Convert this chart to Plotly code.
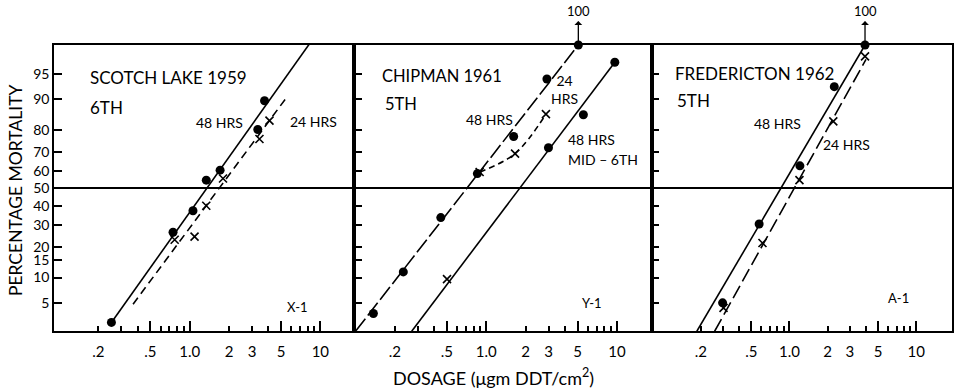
import math
import plotly.graph_objects as go
from statistics import NormalDist

# ---------------- data ----------------
pct_ticks = [5, 10, 15, 20, 30, 40, 50, 60, 70, 80, 90, 95]
dose_label_vals = [0.2, 0.5, 1.0, 2, 3, 5, 10]
dose_label_text = [".2", ".5", "1.0", "2", "3", "5", "10"]
dose_minor_vals = [0.3, 0.4, 0.6, 0.7, 0.8, 0.9, 4, 6, 7, 8, 9]
dose_long_vals = [0.5, 1.0, 5, 10]

# Panel 1: Scotch Lake 1959, 6th instar
p1_48_dose = [0.252, 0.746, 1.06, 1.34, 1.71, 3.32, 3.74]
p1_48_pct = [2.7, 26.4, 37.4, 54.7, 60.3, 80.1, 89.6]
p1_24_dose = [0.768, 1.09, 1.34, 1.80, 3.42, 4.08]
p1_24_pct = [23.0, 24.4, 40.1, 55.6, 76.1, 83.5]
p1_48_fit_dose = [0.252, 8.24]
p1_48_fit_pct = [2.7, 98.1]
p1_24_fit_dose = [0.369, 5.63]
p1_24_fit_pct = [4.8, 90.8]

# Panel 2: Chipman 1961, 5th instar
p2_a_dose = [0.137, 0.232, 0.449, 0.855, 1.62, 2.91, 5.06]
p2_a_pct = [3.6, 11.5, 33.7, 58.4, 77.2, 94.2, 100]
p2_a_fit_dose = [0.10, 5.06]
p2_a_fit_pct = [2.0, 100]
p2_b_dose = [0.89, 1.66, 2.86]
p2_b_pct = [59.3, 69.1, 85.7]
p2_c_dot_dose = [2.99, 5.53, 9.62]
p2_c_dot_pct = [72.0, 85.5, 96.5]
p2_c_x_dose = [0.501]
p2_c_x_pct = [9.6]
p2_c_fit_dose = [0.269, 9.62]
p2_c_fit_pct = [2.0, 96.5]

# Panel 3: Fredericton 1962, 5th instar
p3_48_dose = [0.297, 0.577, 1.21, 2.26, 3.95]
p3_48_pct = [5.0, 30.4, 62.7, 92.8, 100]
p3_24_dose = [0.302, 0.613, 1.20, 2.22, 3.95]
p3_24_pct = [4.3, 21.6, 54.7, 83.2, 97.1]
p3_48_fit_dose = [0.186, 3.95]
p3_48_fit_pct = [2.0, 100]
p3_24_fit_dose = [0.257, 4.02]
p3_24_fit_pct = [2.0, 96.8]

# ---------------- helpers ----------------
ND = NormalDist()
Y_MIN, Y_MAX = -2.05, 2.06


def probit(values):
    out = []
    for p in values:
        out.append(Y_MAX if p >= 100 else ND.inv_cdf(p / 100.0))
    return out


FONT = "Lato"
W, H = 958, 390
ML, MR, MT, MB = 54, 4, 45, 59
PW, PH = W - ML - MR, H - MT - MB


def px(x, y):
    return (x - ML) / PW, (H - MB - y) / PH


fig = go.Figure()

dot = dict(symbol="circle", size=9, color="black")
cross = dict(symbol="x-thin", size=8, line=dict(color="black", width=1.6))


def line(xs, ys, ax, dash, width=1.6, shape="linear"):
    fig.add_trace(go.Scatter(x=xs, y=probit(ys), mode="lines", xaxis=ax[0], yaxis=ax[1],
                             line=dict(color="black", width=width, dash=dash, shape=shape),
                             showlegend=False, hoverinfo="skip", cliponaxis=True))


def marks(xs, ys, ax, m):
    fig.add_trace(go.Scatter(x=xs, y=probit(ys), mode="markers", xaxis=ax[0], yaxis=ax[1],
                             marker=m, showlegend=False, cliponaxis=False))


A1, A2, A3 = ("x", "y"), ("x2", "y2"), ("x3", "y3")

# Panel 1
line(p1_48_fit_dose, p1_48_fit_pct, A1, "solid")
line(p1_24_fit_dose, p1_24_fit_pct, A1, "8px,5px")
marks(p1_48_dose, p1_48_pct, A1, dot)
marks(p1_24_dose, p1_24_pct, A1, cross)

# Panel 2
line(p2_a_fit_dose, p2_a_fit_pct, A2, "16px,4px")
line(p2_b_dose, p2_b_pct, A2, "6px,4px", shape="spline")
line(p2_c_fit_dose, p2_c_fit_pct, A2, "solid")
marks(p2_a_dose, p2_a_pct, A2, dot)
marks(p2_b_dose, p2_b_pct, A2, cross)
marks(p2_c_dot_dose, p2_c_dot_pct, A2, dot)
marks(p2_c_x_dose, p2_c_x_pct, A2, cross)

# Panel 3
line(p3_48_fit_dose, p3_48_fit_pct, A3, "solid")
line(p3_24_fit_dose, p3_24_fit_pct, A3, "14px,5px")
marks(p3_48_dose, p3_48_pct, A3, dot)
marks(p3_24_dose, p3_24_pct, A3, cross)

# empty traces for overlay (long tick) axes
for i in (4, 5, 6):
    fig.add_trace(go.Scatter(x=[], y=[], xaxis=f"x{i}", yaxis="y" if i == 4 else f"y{i-3}",
                             showlegend=False))

x_ranges = [[-1.038, 1.26], [-1.009, 1.265], [-1.087, 1.283]]
b1 = (355 - ML) / PW
b2 = (653 - ML) / PW
domains = [[0, b1], [b1, b2], [b2, 1]]

layout = dict(
    width=W, height=H, margin=dict(l=ML, r=MR, t=MT, b=MB),
    paper_bgcolor="white", plot_bgcolor="white",
    font=dict(family=FONT, color="black", size=15),
)
tickz = probit(pct_ticks)
for i in range(3):
    sx = "" if i == 0 else str(i + 1)
    layout[f"xaxis{sx}"] = dict(
        type="log", range=x_ranges[i], domain=domains[i], anchor=f"y{sx}",
        showgrid=False, zeroline=False, showline=True, mirror=True,
        linecolor="black", linewidth=1.6,
        tickmode="array", tickvals=dose_label_vals, ticktext=dose_label_text,
        ticks="inside", ticklen=5, tickwidth=1.5, tickcolor="black",
        ticklabelstandoff=6,
        tickfont=dict(size=15, family=FONT),
        minor=dict(tickmode="array", tickvals=dose_minor_vals, ticks="inside",
                   ticklen=5, tickwidth=1.5, tickcolor="black", showgrid=False),
    )
    layout[f"yaxis{sx}"] = dict(
        range=[Y_MIN, Y_MAX], domain=[0, 1], anchor=f"x{sx}",
        showgrid=False, zeroline=True, zerolinecolor="black", zerolinewidth=1.6,
        showline=True, mirror=True, linecolor="black", linewidth=1.6,
        tickmode="array", tickvals=tickz, ticktext=[str(v) for v in pct_ticks],
        ticks="inside", ticklen=8, tickwidth=1.5, tickcolor="black",
        showticklabels=(i == 0), tickfont=dict(size=14, family=FONT),
    )
    layout[f"xaxis{i + 4}"] = dict(
        type="log", range=x_ranges[i], overlaying=f"x{sx}", anchor=f"y{sx}",
        showgrid=False, zeroline=False, showline=False,
        tickmode="array", tickvals=dose_long_vals, showticklabels=False,
        ticks="inside", ticklen=10, tickwidth=1.5, tickcolor="black",
    )

fig.update_layout(**layout)

annots = []


def text(t, x, y, size=14, xanchor="left", **kw):
    qx, qy = px(x, y)
    annots.append(dict(text=t, x=qx, y=qy, xref="paper", yref="paper", showarrow=False,
                       xanchor=xanchor, yanchor="middle", font=dict(size=size, family=FONT), **kw))


text("SCOTCH LAKE 1959", 88, 77, 17)
text("6TH", 88, 107, 17)
text("48 HRS", 194, 122)
text("24 HRS", 289, 121)
text("X-1", 286, 307, 13)

text("CHIPMAN 1961", 381, 76, 16.5)
text("5TH", 384, 104, 16.5)
text("24<br>HRS", 566, 90, 14, xanchor="center")
text("48 HRS", 465, 120)
text("48 HRS", 567, 139)
text("MID \u2013 6TH", 567, 159)
text("Y-1", 581, 303, 13)

text("FREDERICTON 1962", 674, 73, 17)
text("5TH", 676, 100, 17)
text("48 HRS", 754, 123)
text("24 HRS", 823, 144)
text("A-1", 888, 298, 13)

text("PERCENTAGE MORTALITY", 15, 190, 17.5, xanchor="center", textangle=-90)
text("DOSAGE (\u03bcgm DDT/cm<sup>2</sup>)", 494, 377, 18, xanchor="center")

# arrows to 100 %
for ax_name, ay_name, d in (("x2", "y2", p2_a_dose[-1]), ("x3", "y3", p3_48_dose[-1])):
    annots.append(dict(text="100", x=math.log10(d), y=Y_MAX, xref=ax_name, yref=ay_name,
                       showarrow=True, arrowside="start", arrowhead=2, arrowsize=1,
                       arrowwidth=1.3, arrowcolor="black", ax=0, ay=-24,
                       font=dict(size=13, family=FONT), yanchor="bottom"))

fig.update_layout(annotations=annots)
fig.write_html("out.html")
